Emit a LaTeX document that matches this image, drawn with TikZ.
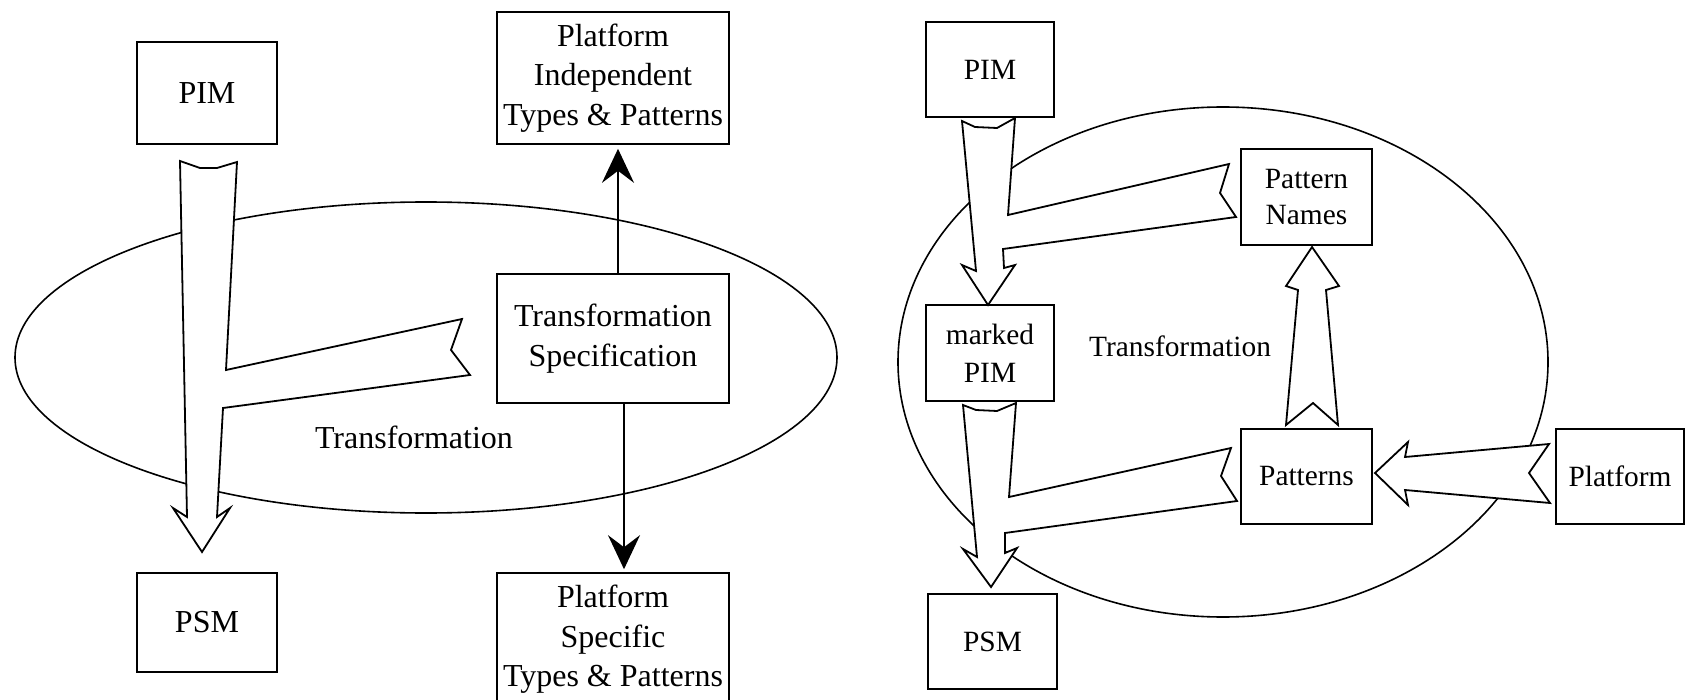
\documentclass[tikz,border=0pt]{standalone}
\usepackage{fontspec}
\setmainfont{Liberation Serif}
\usetikzlibrary{arrows.meta}
\begin{document}
\begin{tikzpicture}[x=0.5pt,y=-0.5pt,
  box/.style={draw,line width=0.8pt,inner sep=0pt,align=center},
  lfont/.style={font=\fontsize{16pt}{19.75pt}\selectfont},
  rfont/.style={font=\fontsize{14.7pt}{19pt}\selectfont},
  blk/.style={draw,fill=white,line width=0.9pt,line join=miter},
  oval/.style={draw,line width=0.8pt},
  tarrow/.style={line width=0.8pt,-{Stealth[length=17pt,width=16pt,inset=6pt]}}]
\useasboundingbox (0,0) rectangle (1686,700);
\clip (0,0) rectangle (1686,700);

% transformation ellipses
\draw[oval] (426,357.5) ellipse [x radius=205.5pt, y radius=77.75pt];
\draw[oval] (1223,362) ellipse [x radius=162.5pt, y radius=127.5pt];

% ---------- left diagram ----------
\node[box,lfont,minimum width=70pt,minimum height=51pt] (pimL) at (207,93) {PIM};
\node[box,lfont,minimum width=70pt,minimum height=49.5pt] (psmL) at (207,622.5) {PSM};
\node[box,lfont,minimum width=116pt,minimum height=66pt] (pit) at (613,78) {Platform\\Independent\\Types \& Patterns};
\node[box,lfont,minimum width=116pt,minimum height=64.5pt] (ts) at (613,338.5) {Transformation\\Specification};
\node[box,lfont,minimum width=116pt,minimum height=66.5pt] (pst) at (613,639.5) {Platform\\Specific\\Types \& Patterns};
\node[lfont,anchor=base] (trL) at (414,448) {Transformation};

% block arrow PIM -> PSM with merging branch from the specification
\draw[blk] (180,161) -- (200,168) -- (217,168) -- (237,162) -- (226,370)
  -- (462,319) -- (451,350) -- (470,375) -- (223,408) -- (217,517)
  -- (230,508) -- (202,552) -- (173,508) -- (187,517) -- cycle;

\draw[tarrow] ([xshift=2.5pt]ts.north) -- ([xshift=2.5pt,yshift=-2pt]pit.south);
\draw[tarrow] ([xshift=5.5pt]ts.south) -- ([xshift=5.5pt,yshift=1.5pt]pst.north);

% ---------- right diagram ----------
\node[box,rfont,minimum width=64pt,minimum height=47.5pt] (pimR) at (990,69.5) {PIM};
\node[box,rfont,minimum width=64pt,minimum height=48pt] (mpim) at (990,353) {marked\\PIM};
\node[box,rfont,minimum width=64.5pt,minimum height=47.5pt] (psmR) at (992.5,641.5) {PSM};
\node[box,rfont,font=\fontsize{14.7pt}{18pt}\selectfont,minimum width=65.5pt,minimum height=48pt] (pn) at (1306.5,197) {Pattern\\Names};
\node[box,rfont,minimum width=65.5pt,minimum height=47.5pt] (pat) at (1306.5,476.5) {Patterns};
\node[box,rfont,minimum width=64pt,minimum height=47.5pt] (plat) at (1620,476.5) {Platform};
\node[rfont,anchor=base] (trR) at (1180,356) {Transformation};

% PIM -> marked PIM, with branch from Pattern Names
\draw[blk] (962,121) -- (975,127) -- (997,128) -- (1015,118) -- (1008,215)
  -- (1229,164) -- (1220,193) -- (1236,217) -- (1003,249) -- (1004,268)
  -- (1015,265) -- (988,305) -- (962,265) -- (976,271) -- cycle;
% marked PIM -> PSM, with branch from Patterns
\draw[blk] (963,405) -- (976,410) -- (997,411) -- (1016,403) -- (1009,497)
  -- (1231,448) -- (1221,476) -- (1237,501) -- (1005,533) -- (1005,553)
  -- (1017,548) -- (991,587) -- (963,549) -- (977,557) -- cycle;
% Patterns -> Pattern Names
\draw[blk] (1286,425) -- (1313,403) -- (1338,425) -- (1326,290) -- (1339,286)
  -- (1312,247) -- (1286,286) -- (1298,290) -- cycle;
% Platform -> Patterns
\draw[blk] (1549,444) -- (1405,457) -- (1408,442) -- (1375,473) -- (1408,505)
  -- (1405,490) -- (1550,503) -- (1529,473) -- cycle;
\end{tikzpicture}
\end{document}
